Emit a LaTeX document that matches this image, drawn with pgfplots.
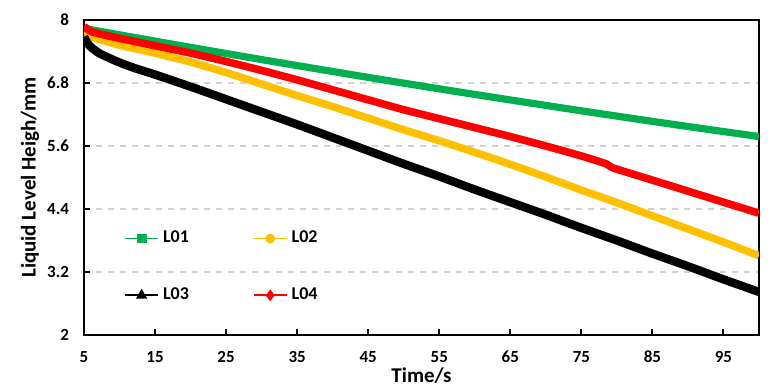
\documentclass[border=0pt]{standalone}
\usepackage{fontspec}
\setmainfont{Carlito}
\usepackage{pgfplots}
\pgfplotsset{compat=1.18}
\definecolor{cGreen}{RGB}{0,176,80}
\definecolor{cYellow}{RGB}{255,192,0}
\definecolor{cRed}{RGB}{255,0,0}
\definecolor{cGrid}{RGB}{210,210,210}
\begin{document}
\begin{tikzpicture}
\path[use as bounding box] (-42pt,-27pt) rectangle (348pt,167.5pt);
\begin{axis}[
  scale only axis,
  width=337.5pt, height=157.5pt,
  xmin=5, xmax=100, ymin=2, ymax=8,
  xtick={5,15,...,95},
  ytick={2,3.2,4.4,5.6,6.8,8},
  axis line style={line width=1pt, black},
  xtick pos=bottom, ytick pos=left,
  major tick length=2.8pt,
  x tick style={line width=1pt, black},
  y tick style={line width=0.8pt, black},
  tick align=inside,
  ymajorgrids,
  grid style={cGrid, line width=0.6pt, dash pattern=on 3pt off 3pt},
  /pgf/number format/assume math mode=true,
  tick label style={font=\bfseries\fontsize{8.5}{10}\selectfont},
  xticklabel style={yshift=-4.5pt},
  yticklabel style={xshift=-4pt},
  every axis y label/.style={at={(axis description cs:-0.08,0.5)}, rotate=90, anchor=center},
  every axis x label/.style={at={(axis description cs:0.5,-0.128)}, anchor=center},
  label style={font=\bfseries\fontsize{10.5}{12}\selectfont},
  xlabel={Time/s},
  ylabel={Liquid Level Heigh/mm},
  legend columns=2,
  legend style={draw=none, fill=none, at={(axis description cs:0.059,0.216)}, anchor=west,
    font=\bfseries\fontsize{9}{10}\selectfont, inner sep=0pt, row sep=17pt,
    /tikz/every even column/.append style={column sep=30pt}},
  legend image code/.code={\draw[mark repeat=2,mark phase=2,#1] plot coordinates {(0pt,0pt) (8.25pt,0pt) (16.5pt,0pt)};},
  legend cell align=left,
]
\addplot[cGreen, line width=3.6pt, smooth, tension=0.4, forget plot] coordinates {
(5,7.84)(10,7.718)(15,7.598)(20,7.479)(25,7.362)(30,7.246)(35,7.132)(40,7.019)(45,6.907)(50,6.797)
(55,6.689)(60,6.582)(65,6.477)(70,6.373)(75,6.270)(80,6.169)(85,6.069)(90,5.971)(95,5.875)(100,5.78)};
\addplot[cYellow, line width=3.8pt, smooth, tension=0.4, forget plot] coordinates {
(5,7.76)(6,7.68)(8,7.60)(10,7.52)(15,7.37)(20,7.20)(25,7.00)(30,6.78)(35,6.56)(40,6.35)(45,6.13)
(50,5.91)(55,5.70)(60,5.48)(65,5.25)(70,5.01)(75,4.76)(80,4.52)(85,4.27)(90,4.02)(95,3.77)(100,3.51)};
\addplot[cRed, line width=3.8pt, smooth, tension=0.3, forget plot] coordinates {
(5,7.88)(6,7.78)(8,7.71)(10,7.65)(15,7.51)(20,7.37)(25,7.21)(30,7.04)(35,6.86)(40,6.67)(45,6.48)
(50,6.29)(55,6.12)(60,5.95)(65,5.78)(70,5.60)(75,5.41)(78.5,5.26)(79.5,5.18)(85,4.95)(90,4.74)(95,4.53)(100,4.32)};
\addplot[black, line width=4.2pt, smooth, tension=0.4, forget plot] coordinates {
(5,7.68)(5.5,7.56)(6,7.48)(7,7.38)(8,7.31)(10,7.19)(12,7.09)(15,6.96)(20,6.73)(25,6.49)(30,6.25)(35,6.01)
(40,5.76)(45,5.51)(50,5.26)(55,5.02)(60,4.77)(65,4.53)(70,4.29)(75,4.04)(80,3.80)(85,3.55)(90,3.31)(95,3.06)(100,2.82)};
\addlegendimage{cGreen, line width=0.9pt, mark=square*, mark size=2pt}
\addlegendentry{L01}
\addlegendimage{cYellow, line width=0.9pt, mark=*, mark size=2pt}
\addlegendentry{L02}
\addlegendimage{black, line width=0.9pt, mark=triangle*, mark size=2.4pt}
\addlegendentry{L03}
\addlegendimage{cRed, line width=0.9pt, mark=diamond*, mark size=2.2pt}
\addlegendentry{L04}
\end{axis}
\end{tikzpicture}
\end{document}
